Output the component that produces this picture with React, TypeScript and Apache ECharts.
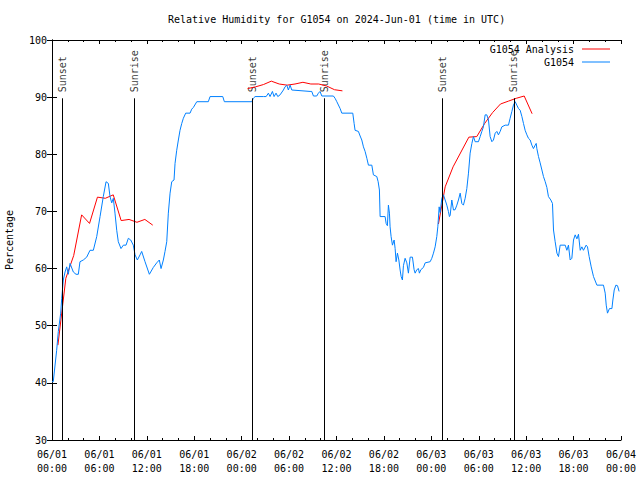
import React, { useEffect, useRef } from "react";
import * as echarts from "echarts";

const chartTitle = "Relative Humidity for G1054 on 2024-Jun-01 (time in UTC)";
const yAxisTitle = "Percentage";
const xTickLabels = [
  "06/01\n00:00", "06/01\n06:00", "06/01\n12:00", "06/01\n18:00",
  "06/02\n00:00", "06/02\n06:00", "06/02\n12:00", "06/02\n18:00",
  "06/03\n00:00", "06/03\n06:00", "06/03\n12:00", "06/03\n18:00",
  "06/04\n00:00",
];

// hours since 2024-06-01 00:00 UTC
const eventHours = [1.3, 10.42, 25.35, 34.42, 49.4, 58.45];
const eventLabels = ["Sunset", "Sunrise", "Sunset", "Sunrise", "Sunset", "Sunrise"];
const eventTop = 89.8;

const analysisHours1 = [0.75, 1.75, 2.75, 3.75, 4.75, 5.75, 6.75, 7.75, 8.75, 9.75, 10.75, 11.75, 12.75];
const analysisValues1 = [46.6, 58.3, 62.3, 69.4, 67.9, 72.5, 72.3, 72.9, 68.4, 68.6, 68.1, 68.6, 67.6];
const analysisHours2 = [24.75, 25.75, 26.75, 27.75, 28.75, 29.75, 30.75, 31.75, 32.75, 33.75, 34.75, 35.75, 36.75];
const analysisValues2 = [91.5, 91.8, 92.2, 92.8, 92.3, 92.1, 92.3, 92.6, 92.3, 92.3, 91.95, 91.3, 91.1];
const analysisHours3 = [48.9, 49.75, 50.75, 51.75, 52.75, 53.75, 54.75, 55.75, 56.75, 57.75, 58.75, 59.75, 60.75];
const analysisValues3 = [67.8, 74.3, 77.8, 80.4, 83.0, 83.1, 85.4, 87.3, 88.8, 89.3, 89.8, 90.2, 87.1];

const obsHours = [
  0.0, 0.16, 0.59, 0.8, 1.1, 1.23, 1.43, 1.65, 1.86, 2.06, 2.28, 2.7, 3.04, 3.33, 3.54, 3.96,
  4.39, 4.81, 5.23, 5.66, 6.08, 6.49, 6.84, 7.13, 7.34, 7.56, 7.76, 7.97, 8.19, 8.39, 8.73,
  9.03, 9.37, 9.66, 9.96, 10.29, 10.51, 10.8, 11.14, 11.35, 11.77, 12.32, 12.82, 13.25, 13.58,
  13.8, 14.09, 14.3, 14.52, 14.72, 14.94, 15.15, 15.44, 15.57, 15.78, 15.99, 16.2, 16.42, 16.62,
  16.92, 17.47, 17.68, 17.89, 18.32, 19.78, 20.0, 21.61, 21.81, 25.28, 25.48, 25.7, 26.75,
  27.1, 27.38, 27.59, 27.89, 28.1, 28.35, 28.57, 28.86, 29.28, 29.49, 29.71, 29.91, 30.13,
  30.34, 32.66, 32.87, 33.08, 33.5, 33.71, 33.92, 34.14, 35.61, 35.82, 36.04, 36.46, 36.67,
  38.06, 38.23, 38.35, 38.77, 38.99, 39.2, 39.41, 39.62, 39.84, 40.04, 40.47, 40.67, 41.1,
  41.27, 41.43, 41.52, 42.15, 42.28, 42.44, 42.57, 42.7, 42.78, 42.91, 43.08, 43.29, 43.42,
  43.54, 43.71, 43.89, 44.05, 44.18, 44.34, 44.47, 44.68, 44.9, 45.1, 45.32, 45.61, 45.82,
  45.95, 46.16, 46.37, 46.49, 46.67, 47.0, 47.22, 47.85, 48.06, 48.27, 48.48, 48.69, 48.82,
  48.99, 49.11, 49.2, 49.33, 49.53, 49.75, 49.96, 50.16, 50.29, 50.38, 50.59, 50.8, 51.01,
  51.23, 51.43, 51.65, 51.86, 52.06, 52.28, 52.49, 52.7, 52.91, 53.13, 53.33, 53.54, 53.96,
  54.18, 54.39, 54.59, 54.81, 55.02, 55.23, 55.44, 55.66, 55.86, 56.08, 56.29, 56.49, 56.71,
  56.92, 57.34, 57.76, 57.97, 58.19, 58.39, 58.61, 58.82, 59.03, 59.24, 59.46, 59.66, 59.87,
  60.09, 60.29, 60.51, 60.72, 60.92, 61.14, 61.27, 61.35, 61.56, 61.77, 61.99, 62.19, 62.41,
  62.62, 62.82, 63.12, 63.33, 63.46, 63.67, 63.89, 64.09, 64.3, 64.94, 65.15, 65.35, 65.57,
  65.78, 65.99, 66.2, 66.42, 66.62, 66.84, 67.05, 67.25, 67.59, 67.76, 67.97, 68.23, 68.52,
  68.95, 69.78, 70.0, 70.13, 70.29, 70.54, 70.85, 70.97, 71.14, 71.35, 71.56, 71.76,
];
const obsValues = [
  40.2, 40.2, 45.7, 49, 52.2, 54.8, 58, 59.4, 60.3, 59, 60.9, 59.4, 59, 59, 61.2, 61.5,
  62, 63.2, 63.2, 65.6, 69.1, 72.6, 75.2, 74.9, 72.6, 71.5, 72.3, 69.7, 66.7, 64.7, 63.5,
  64.1, 64.1, 65.3, 65, 64.1, 62.4, 61.5, 62.4, 63, 61.2, 59, 60.2, 61, 61.5,
  60, 61.5, 63, 64.7, 69.7, 73.2, 75.2, 75.5, 78.4, 80.7, 82.5, 84.2, 85.4, 86.3,
  87.2, 87.2, 87.9, 88.2, 89.2, 89.2, 90.1, 90.1, 89.2, 89.2, 89.8, 90.1, 90.1,
  90.1, 90.7, 90.1, 91, 90.1, 90.7, 90.1, 90.4, 91.25, 91.8, 92.1, 91.25, 92.1,
  91.25, 91, 91, 90.2, 90.2, 90.7, 91, 90.2, 90.2, 89.8, 89.2, 88, 87.2,
  87.2, 85.4, 84.2, 84, 83.2, 82.5, 81.3, 80.5, 79.3, 78.1, 78.1, 76.4, 76.1,
  75.2, 73.75, 69.1, 69.1, 67.9, 67.5, 71.1, 69.7, 67.3, 65.6, 64.1, 65, 63.5,
  61.2, 62.7, 61.5, 59.75, 58.6, 58, 60.5, 61.8, 61, 59.2, 62, 62, 59.8,
  59.2, 59.8, 60, 59.2, 59.8, 60.2, 61, 61.2, 61.8, 62.7, 63.8, 65.6, 67.3,
  70.8, 69.8, 70.8, 72.3, 72.9, 72, 71.1, 70, 69.1, 69.3, 72, 70.25, 70.3,
  71.1, 72, 73.2, 71.4, 71.1, 72.3, 74, 76.7, 80.2, 81.9, 83.1, 82.2, 82.2,
  83.1, 84, 84.8, 86.9, 86.9, 86, 83.1, 82.2, 82.5, 83.7, 84, 83.4, 84,
  84.8, 85.1, 85.1, 86.3, 87.5, 88.6, 89.2, 88.6, 88, 87.7, 86.6, 85.4, 84.2,
  83.4, 82.8, 82.5, 81.6, 81, 81.6, 81.9, 81, 79.6, 78.5, 77.25, 76.1, 75.2,
  74.2, 72.6, 72, 71.4, 66.75, 64.7, 62.7, 62.1, 64.1, 64.1, 63.2, 64.1, 61.5,
  61.8, 65, 65.9, 65.2, 66, 63.2, 63.8, 63.2, 64.1, 63.8, 62.1, 60.3, 58.6,
  57.1, 57.1, 55.7, 53.6, 52.2, 53, 53, 54.5, 56.25, 57.1, 57, 56,
];

const FONT = "DejaVu Sans Mono";
const RED = "#ff0000";
const BLUE = "#0080ff";

export default function App() {
  const ref = useRef<HTMLDivElement>(null);
  useEffect(() => {
    document.body.style.margin = "0";
    if (!ref.current) return;
    const chart = echarts.init(ref.current, undefined, { renderer: "svg" });

    const analysisData: any[] = [];
    [
      [analysisHours1, analysisValues1],
      [analysisHours2, analysisValues2],
      [analysisHours3, analysisValues3],
    ].forEach(([hs, vs], k) => {
      if (k > 0) analysisData.push([(hs as number[])[0] - 0.5, null]);
      (hs as number[]).forEach((h, i) => analysisData.push([h, (vs as number[])[i]]));
    });
    const obsData = obsHours.map((h, i) => [h, obsValues[i]]);

    const axisLine = { show: true, lineStyle: { color: "#000", width: 1 } };
    const textBase = { fontFamily: FONT, fontSize: 10, color: "#000" };

    const legendBase = {
      orient: "vertical",
      align: "right",
      right: 30,
      icon: "rect",
      itemWidth: 28,
      itemHeight: 1,
      padding: 0,
      selectedMode: false,
      textStyle: { ...textBase, padding: [0, 3, 0, 0] },
    };

    chart.setOption({
      animation: false,
      backgroundColor: "#fff",
      title: {
        text: chartTitle,
        left: 168,
        top: 14,
        padding: 0,
        textStyle: { ...textBase, fontWeight: "normal" },
      },
      legend: [
        { ...legendBase, top: 44, data: ["G1054 Analysis"] },
        { ...legendBase, top: 57, data: ["G1054"] },
      ],
      grid: {
        left: 52,
        right: 19,
        top: 40,
        bottom: 40,
        containLabel: false,
        outerBoundsMode: "none",
      },
      xAxis: [
        {
          type: "value",
          min: 0,
          max: 72,
          interval: 6,
          axisLine,
          axisTick: { show: true, inside: true, length: 4, lineStyle: { color: "#000" } },
          minorTick: { show: true, splitNumber: 3, length: 2, lineStyle: { color: "#000" } },
          splitLine: { show: false },
          axisLabel: {
            ...textBase,
            margin: 7,
            lineHeight: 14,
            showMinLabel: true,
            showMaxLabel: true,
            formatter: (v: number) => xTickLabels[Math.round(v / 6)] ?? "",
          },
        },
        {
          type: "value",
          position: "top",
          min: 0,
          max: 72,
          interval: 6,
          axisLine,
          axisTick: { show: true, inside: true, length: 4, lineStyle: { color: "#000" } },
          minorTick: { show: true, splitNumber: 3, length: 2, lineStyle: { color: "#000" } },
          splitLine: { show: false },
          axisLabel: { show: false },
        },
      ],
      yAxis: [
        {
          type: "value",
          min: 30,
          max: 100,
          interval: 10,
          name: yAxisTitle,
          nameLocation: "middle",
          nameGap: 38,
          nameTextStyle: textBase,
          axisLine,
          axisTick: { show: true, inside: true, length: 5, lineStyle: { color: "#000" } },
          splitLine: { show: false },
          axisLabel: { ...textBase, margin: 5 },
        },
        {
          type: "value",
          position: "right",
          min: 30,
          max: 100,
          interval: 10,
          axisLine,
          axisTick: { show: true, inside: true, length: 5, lineStyle: { color: "#000" } },
          splitLine: { show: false },
          axisLabel: { show: false },
        },
      ],
      series: [
        {
          type: "scatter",
          z: 1,
          silent: true,
          symbolSize: 0,
          itemStyle: { color: "transparent" },
          data: eventHours.map((h, i) => ({ value: [h, eventTop], name: eventLabels[i] })),
          label: {
            show: true,
            formatter: "{b}",
            position: "top",
            distance: 6,
            rotate: 90,
            align: "left",
            verticalAlign: "middle",
            ...textBase,
          },
          markLine: {
            silent: true,
            symbol: ["none", "none"],
            label: { show: false },
            lineStyle: { color: "#000", width: 1, type: "solid" },
            data: eventHours.map((h) => [{ coord: [h, 30] }, { coord: [h, eventTop] }]),
          },
        },
        {
          name: "G1054 Analysis",
          type: "line",
          z: 2,
          color: RED,
          showSymbol: false,
          symbol: "none",
          connectNulls: false,
          lineStyle: { color: RED, width: 1 },
          itemStyle: { color: RED },
          data: analysisData,
        },
        {
          name: "G1054",
          type: "line",
          z: 3,
          color: BLUE,
          showSymbol: false,
          symbol: "none",
          lineStyle: { color: BLUE, width: 1 },
          itemStyle: { color: BLUE },
          data: obsData,
        },
      ],
    });
    return () => chart.dispose();
  }, []);
  return <div ref={ref} style={{ width: 640, height: 480 }} />;
}
